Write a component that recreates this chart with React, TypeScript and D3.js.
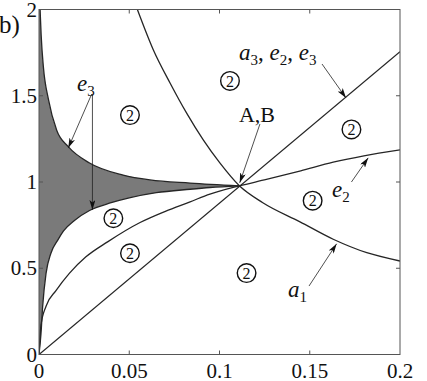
import * as d3 from "d3";

const WIDTH = 427;
const HEIGHT = 381;
const LEFT = 39;
const RIGHT = 400;
const TOP = 9.5;
const BOTTOM = 354.5;
const FONT = "Liberation Serif, Times New Roman, Tinos, DejaVu Serif, serif";

const xTicks = [0, 0.05, 0.1, 0.15, 0.2];
const yTicks = [0, 0.5, 1, 1.5, 2];

// boundary curves, [x, y]
const lineA3E2E3 = [[0, 0], [0.2, 1.755]];
const curveE2 = [
  [0, 0], [0.0011, 0.17], [0.0039, 0.28], [0.0094, 0.37], [0.0168, 0.47], [0.026, 0.566],
  [0.038, 0.653], [0.056, 0.765], [0.07, 0.83], [0.0837, 0.885], [0.0947, 0.93], [0.111, 0.978],
  [0.126, 1.015], [0.145, 1.065], [0.163, 1.115], [0.18, 1.152], [0.2, 1.186]
];
const curveE3Lower = [
  [0, 0], [0.0011, 0.12], [0.002, 0.275], [0.0039, 0.47], [0.0066, 0.587], [0.0104, 0.663],
  [0.0135, 0.715], [0.02, 0.78], [0.028, 0.835], [0.04, 0.88], [0.05, 0.908], [0.065, 0.938],
  [0.0837, 0.958], [0.0947, 0.968], [0.111, 0.978]
];
const curveE3Upper = [
  [0.0006, 2], [0.0012, 1.85], [0.0024, 1.67], [0.0052, 1.48], [0.0098, 1.3], [0.0162, 1.205],
  [0.028, 1.11], [0.0466, 1.04], [0.0615, 1.012], [0.0837, 0.994], [0.111, 0.978]
];
const curveA1 = [
  [0.0545, 2], [0.0633, 1.767], [0.0726, 1.574], [0.0818, 1.399], [0.091, 1.244], [0.1003, 1.109],
  [0.111, 0.978], [0.124, 0.88], [0.1446, 0.769], [0.163, 0.668], [0.1816, 0.59], [0.2, 0.542]
];

// circled region numbers
const regionMarks = [
  [0.0504, 1.388], [0.1058, 1.586], [0.1731, 1.305], [0.1516, 0.892],
  [0.115, 0.472], [0.0412, 0.79], [0.0504, 0.587]
];

// annotations: label parts [letter, subscript], anchor at text start / baseline
const labels = [
  { parts: [["e", "3"]], x: 0.0211, y: 1.528, italic: true },
  { parts: [["A,B", ""]], x: 0.1108, y: 1.348, italic: false },
  { parts: [["a", "3"], ["e", "2"], ["e", "3"]], x: 0.1108, y: 1.707, italic: true },
  { parts: [["e", "2"]], x: 0.1623, y: 0.913, italic: true },
  { parts: [["a", "1"]], x: 0.138, y: 0.333, italic: true }
];
const arrows = [
  [[0.0292, 1.51], [0.0162, 1.197]],
  [[0.0296, 1.51], [0.0296, 0.838]],
  [[0.1224, 1.336], [0.1112, 0.995]],
  [[0.1568, 1.684], [0.1701, 1.487]],
  [[0.1731, 1.0], [0.1824, 1.14]],
  [[0.1496, 0.397], [0.1649, 0.642]]
];

function MathLabel({ lab, x, y }) {
  const bits = [];
  let lowered = false;
  lab.parts.forEach(([main, sub], j) => {
    const reset = lowered ? -5 : 0;
    lowered = false;
    if (j > 0) {
      bits.push(<tspan key={`c${j}`} dy={reset} fontStyle="normal">, </tspan>);
    }
    bits.push(
      <tspan key={`m${j}`} dy={j === 0 ? reset : 0} fontStyle={lab.italic ? "italic" : "normal"}>
        {main}
      </tspan>
    );
    if (sub) {
      bits.push(<tspan key={`s${j}`} fontSize={15} dy={5}>{sub}</tspan>);
      lowered = true;
    }
  });
  return (
    <text x={x(lab.x)} y={y(lab.y)} fontSize={lab.italic ? 23 : 22}>
      {bits}
    </text>
  );
}

export default function App() {
  const x = d3.scaleLinear().domain([0, 0.2]).range([LEFT, RIGHT]);
  const y = d3.scaleLinear().domain([0, 2]).range([BOTTOM, TOP]);
  const line = d3
    .line()
    .x((d) => x(d[0]))
    .y((d) => y(d[1]))
    .curve(d3.curveMonotoneX);

  const upperD = line([[0, 2], ...curveE3Upper]);
  const lowerRevD = line([...curveE3Lower].reverse());
  const shadeD = `${upperD}L${lowerRevD.slice(1)}Z`;

  const curves = [lineA3E2E3, curveE2, curveE3Lower, curveE3Upper, curveA1];

  return (
    <div style={{ position: "absolute", left: 0, top: 0 }}>
      <svg width={WIDTH} height={HEIGHT} viewBox={`0 0 ${WIDTH} ${HEIGHT}`} style={{ display: "block", background: "#fff", fontFamily: FONT }}>
        <defs>
          <clipPath id="plot">
            <rect x={LEFT} y={TOP} width={RIGHT - LEFT} height={BOTTOM - TOP} />
          </clipPath>
          <marker id="head" viewBox="0 0 10 6" refX="10" refY="3" markerWidth="10" markerHeight="6" markerUnits="userSpaceOnUse" orient="auto">
            <path d="M0,0 L10,3 L0,6 L2.5,3 Z" fill="#111" />
          </marker>
        </defs>

        <g clipPath="url(#plot)">
          <path d={shadeD} fill="#7a7a7a" stroke="none" />
          {curves.map((c, i) => (
            <path key={i} d={line(c)} fill="none" stroke="#262626" strokeWidth={1.3} />
          ))}
        </g>

        {/* frame and inward ticks */}
        <rect x={LEFT} y={TOP} width={RIGHT - LEFT} height={BOTTOM - TOP} fill="none" stroke="#555" strokeWidth={1} />
        <g stroke="#555" strokeWidth={1}>
          {xTicks.slice(1, -1).map((t) => (
            <g key={t}>
              <line x1={x(t)} x2={x(t)} y1={BOTTOM} y2={BOTTOM - 4} />
              <line x1={x(t)} x2={x(t)} y1={TOP} y2={TOP + 4} />
            </g>
          ))}
          {yTicks.slice(1, -1).map((t) => (
            <g key={t}>
              <line x1={LEFT} x2={LEFT + 4} y1={y(t)} y2={y(t)} />
              <line x1={RIGHT} x2={RIGHT - 4} y1={y(t)} y2={y(t)} />
            </g>
          ))}
        </g>

        <g fontSize={21} fill="#111">
          {xTicks.map((t) => (
            <text key={t} x={x(t)} y={BOTTOM + 23} textAnchor="middle">
              {d3.format("~g")(t)}
            </text>
          ))}
          {yTicks.map((t) => (
            <text key={t} x={LEFT - 2} y={y(t)} dy="0.34em" textAnchor="end">
              {d3.format("~g")(t)}
            </text>
          ))}
          <text x={-1} y={33} fontSize={25}>b)</text>
        </g>

        {/* circled region labels */}
        <g>
          {regionMarks.map(([a, b], i) => (
            <g key={i} transform={`translate(${x(a)},${y(b)})`}>
              <circle r={9.3} fill="#fff" stroke="#111" strokeWidth={1.4} />
              <text y={0} dy="0.35em" textAnchor="middle" fontSize={16} fill="#111">2</text>
            </g>
          ))}
        </g>

        {/* arrows */}
        <g stroke="#222" strokeWidth={0.8}>
          {arrows.map(([p0, p1], i) => (
            <line key={i} x1={x(p0[0])} y1={y(p0[1])} x2={x(p1[0])} y2={y(p1[1])} markerEnd="url(#head)" />
          ))}
        </g>

        <g fill="#111">
          {labels.map((lab, i) => (
            <MathLabel key={i} lab={lab} x={x} y={y} />
          ))}
        </g>
      </svg>
    </div>
  );
}
